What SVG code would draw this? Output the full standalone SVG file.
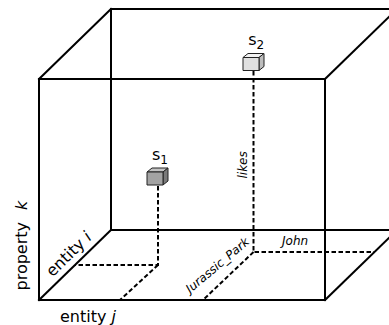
<svg xmlns="http://www.w3.org/2000/svg" width="389" height="325" viewBox="0 0 389 325">
  <style>
    .edge { stroke: #000; stroke-width: 2; fill: none; stroke-linecap: square; }
    .dash { stroke: #000; stroke-width: 2; fill: none; stroke-dasharray: 4.5 2.5; }
    .face { stroke: #222; stroke-width: 1; stroke-linejoin: round; }
    text { font-family: "DejaVu Sans", "Liberation Sans", sans-serif; fill: #000; }
    .axis { font-size: 16px; }
    .small { font-size: 12px; font-style: italic; }
    .it { font-style: italic; }
  </style>
  <rect width="389" height="325" fill="#fff"/>

  <!-- box frame -->
  <g id="frame">
    <line class="edge" x1="111" y1="9" x2="397" y2="9"/>
    <line class="edge" x1="111" y1="9" x2="111" y2="230"/>
    <line class="edge" x1="111" y1="230" x2="397" y2="230"/>
    <line class="edge" x1="39" y1="79" x2="111" y2="9"/>
    <line class="edge" x1="325" y1="79" x2="397" y2="9"/>
    <line class="edge" x1="39" y1="300" x2="111" y2="230"/>
    <line class="edge" x1="325" y1="300" x2="397" y2="230"/>
    <rect class="edge" x="39" y="79" width="286" height="221"/>
  </g>

  <!-- projection lines -->
  <g id="connectors">
    <polyline class="dash" points="158,186 158,265 75,265"/>
    <line class="dash" x1="158" y1="265" x2="120" y2="300"/>
    <polyline class="dash" points="253.5,71 253.5,252 374,252"/>
    <line class="dash" x1="253.5" y1="252" x2="203" y2="300"/>
  </g>

  <!-- s1 -->
  <g id="s1">
    <polygon class="face" points="147,172 152,168 168,168 163,172" fill="#c4c4c4"/>
    <polygon class="face" points="163,172 168,168 168,181 163,185" fill="#7a7a7a"/>
    <rect class="face" x="147" y="172" width="16" height="13" fill="#a3a3a3"/>
    <text class="axis" x="152" y="159.5">s</text>
    <text x="160.3" y="163.5" font-size="12">1</text>
  </g>

  <!-- s2 -->
  <g id="s2">
    <polygon class="face" points="243,57.5 248,53.5 264,53.5 259,57.5" fill="#f2f2f2"/>
    <polygon class="face" points="259,57.5 264,53.5 264,66.5 259,70.5" fill="#bdbdbd"/>
    <rect class="face" x="243" y="57.5" width="16" height="13" fill="#e0e0e0"/>
    <text class="axis" x="248.3" y="44.5">s</text>
    <text x="256.6" y="48.5" font-size="12">2</text>
  </g>

  <!-- axis labels -->
  <g id="labels">
    <text class="axis" transform="translate(27,290.5) rotate(-90)">property <tspan class="it" dx="7">k</tspan></text>
    <text class="axis" transform="translate(52.5,277.5) rotate(-44.2)">entity <tspan class="it">i</tspan></text>
    <text class="axis" x="60" y="321.5">entity <tspan class="it">j</tspan></text>
    <text class="small" transform="translate(246.8,178.5) rotate(-90)">likes</text>
    <text class="small" x="282" y="245">John</text>
    <text class="small" transform="translate(190,293.5) rotate(-40)">Jurassic_Park</text>
  </g>
</svg>
